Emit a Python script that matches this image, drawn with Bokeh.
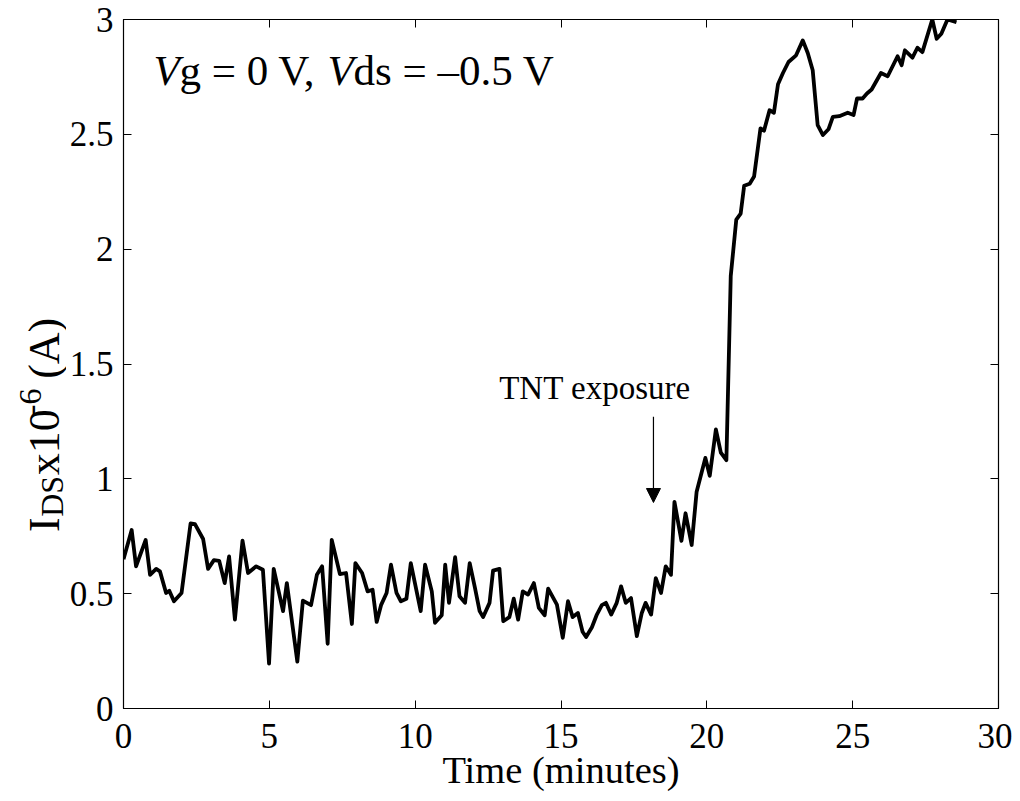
import numpy as np
from bokeh.plotting import figure
from bokeh.layouts import row
from bokeh.models import Range1d, FixedTicker, LinearAxis, Label, Arrow, NormalHead
from bokeh.embed import file_html
from bokeh.resources import INLINE

# ---------------- data ----------------
time_min = [0.00, 0.28, 0.43, 0.76, 0.91, 1.12, 1.25, 1.46, 1.57, 1.73,
            1.99, 2.30, 2.45, 2.73, 2.90, 3.10, 3.28, 3.47, 3.62, 3.82,
            4.08, 4.27, 4.55, 4.78, 4.99, 5.15, 5.47, 5.60, 5.96, 6.15,
            6.43, 6.63, 6.81, 7.00, 7.14, 7.42, 7.63, 7.83, 7.95, 8.18,
            8.37, 8.54, 8.68, 8.83, 9.02, 9.17, 9.36, 9.51, 9.70, 9.85,
            10.19, 10.34, 10.57, 10.68, 10.91, 11.03, 11.16, 11.37, 11.52, 11.71,
            11.87, 12.05, 12.21, 12.33, 12.55, 12.67, 12.89, 13.02, 13.23, 13.38,
            13.53, 13.69, 13.87, 14.07, 14.24, 14.44, 14.56, 14.86, 15.06, 15.24,
            15.40, 15.58, 15.74, 15.86, 16.06, 16.23, 16.40, 16.54, 16.72, 16.91,
            17.06, 17.22, 17.40, 17.60, 17.77, 17.90, 18.09, 18.25, 18.43, 18.59,
            18.77, 18.89, 19.13, 19.27, 19.48, 19.65, 19.95, 20.10, 20.31, 20.48,
            20.67, 20.82, 21.01, 21.16, 21.28, 21.47, 21.62, 21.84, 21.96, 22.15,
            22.30, 22.44, 22.61, 22.80, 23.06, 23.29, 23.46, 23.63, 23.80, 23.98,
            24.17, 24.32, 24.54, 24.83, 25.03, 25.15, 25.34, 25.49, 25.65, 25.97,
            26.20, 26.54, 26.68, 26.79, 27.05, 27.22, 27.39, 27.73, 27.88, 28.04,
            28.25, 28.56]

ids_uA = [0.650, 0.777, 0.619, 0.734, 0.582, 0.608, 0.597, 0.503, 0.513, 0.467,
          0.503, 0.806, 0.803, 0.738, 0.608, 0.646, 0.643, 0.546, 0.662, 0.387,
          0.731, 0.590, 0.619, 0.604, 0.195, 0.608, 0.424, 0.546, 0.204, 0.470,
          0.450, 0.582, 0.619, 0.282, 0.734, 0.585, 0.590, 0.368, 0.633, 0.590,
          0.510, 0.517, 0.377, 0.450, 0.503, 0.626, 0.503, 0.467, 0.478, 0.633,
          0.424, 0.626, 0.510, 0.373, 0.406, 0.626, 0.460, 0.659, 0.489, 0.460,
          0.633, 0.525, 0.424, 0.398, 0.460, 0.600, 0.608, 0.380, 0.398, 0.478,
          0.387, 0.510, 0.496, 0.546, 0.438, 0.406, 0.522, 0.452, 0.308, 0.467,
          0.398, 0.416, 0.334, 0.311, 0.354, 0.409, 0.450, 0.460, 0.409, 0.460,
          0.532, 0.460, 0.481, 0.315, 0.416, 0.460, 0.409, 0.568, 0.503, 0.619,
          0.582, 0.900, 0.730, 0.850, 0.712, 0.944, 1.091, 1.013, 1.215, 1.114,
          1.081, 1.883, 2.129, 2.155, 2.276, 2.285, 2.316, 2.526, 2.516, 2.605,
          2.594, 2.718, 2.767, 2.815, 2.844, 2.909, 2.854, 2.779, 2.540, 2.497,
          2.522, 2.576, 2.579, 2.594, 2.584, 2.656, 2.656, 2.678, 2.695, 2.767,
          2.753, 2.840, 2.801, 2.866, 2.834, 2.877, 2.858, 3.000, 2.916, 2.938,
          3.000, 2.988]

x_ticks = [0, 5, 10, 15, 20, 25, 30]
y_ticks = [0, 0.5, 1, 1.5, 2, 2.5, 3]
y_tick_labels = ["0", "0.5", "1", "1.5", "2", "2.5", "3"]

x_label = "Time (minutes)"
annotation_text = "TNT exposure"
exposure_time = 18.17
arrow_top, arrow_tip = 1.27, 0.897

# ---------------- layout ----------------
H = 793
LW = 66                     # strip holding the rotated y label
W = 1012 - LW               # main figure
ML, MR, MT = 120 - LW, 14, 19
frame_w = W - ML - MR       # 878
frame_h = 692
MB = H - MT - frame_h       # 82
XPX = frame_w / 30.0
YPX = frame_h / 3.0

serif = "Liberation Serif"

p = figure(width=W, height=H, x_range=Range1d(0, 30), y_range=Range1d(0, 3),
           output_backend="svg", toolbar_location=None,
           min_border_left=ML, min_border_right=MR, min_border_top=MT,
           min_border_bottom=MB)
p.background_fill_color = "white"
p.border_fill_color = "white"
p.outline_line_color = "black"
p.outline_line_width = 1.2
p.xgrid.grid_line_color = None
p.ygrid.grid_line_color = None

p.line(time_min, ids_uA, line_color="black", line_width=3.8, line_join="round")


def style_axis(ax, ticks, show_labels=True, standoff=10):
    ax.ticker = FixedTicker(ticks=ticks)
    ax.major_tick_in = 8
    ax.major_tick_out = 0
    ax.minor_tick_line_color = None
    ax.axis_line_color = "black"
    ax.major_tick_line_color = "black"
    ax.major_label_text_font = serif
    ax.major_label_text_color = "black"
    if show_labels:
        ax.major_label_text_font_size = "35px"
        ax.major_label_standoff = standoff
    else:
        ax.major_label_overrides = {t: "" for t in ticks}
        ax.major_label_text_font_size = "1px"
        ax.major_label_text_color = None
        ax.major_label_standoff = 0


style_axis(p.xaxis[0], x_ticks, True, 15)
style_axis(p.yaxis[0], y_ticks, True, 10)
p.yaxis[0].major_label_overrides = {t: s for t, s in zip(y_ticks, y_tick_labels)}

xa = p.xaxis[0]
xa.axis_label = x_label
xa.axis_label_text_font = serif
xa.axis_label_text_font_size = "38.5px"
xa.axis_label_text_font_style = "normal"
xa.axis_label_text_color = "black"
xa.axis_label_standoff = -2

top = LinearAxis()
style_axis(top, x_ticks, False)
p.add_layout(top, "above")
right = LinearAxis()
style_axis(right, y_ticks, False)
p.add_layout(right, "right")


def add_label(fig, text, x, y, size, style="normal", angle=0.0, align="left"):
    fig.add_layout(Label(x=x, y=y, text=text, text_font=serif,
                         text_font_size=f"{size}px", text_font_style=style,
                         angle=angle, text_align=align,
                         text_baseline="alphabetic", text_color="black"))


# condition annotation: Vg = 0 V, Vds = -0.5 V
ax0 = 30 / XPX
ay = 641 / YPX
fs = 43
off = 0.0
add_label(p, "V", ax0, ay, fs, style="italic")
off += 0.611 * fs
add_label(p, "g = 0 V,", ax0 + off / XPX, ay, fs)
off += 3.45 * fs
add_label(p, "V", ax0 + off / XPX, ay, fs, style="italic")
off += 0.611 * fs
add_label(p, "ds = \u20130.5 V", ax0 + off / XPX, ay, fs)

# TNT exposure annotation and arrow
add_label(p, annotation_text, 377 / XPX, 322 / YPX, 33)
p.add_layout(Arrow(end=NormalHead(size=14, fill_color="black", line_color="black"),
                   x_start=exposure_time, y_start=arrow_top,
                   x_end=exposure_time, y_end=arrow_tip,
                   line_color="black", line_width=1.2))

# ---------------- y label strip (pixel coordinates) ----------------
lf = figure(width=LW, height=H, x_range=Range1d(0, LW), y_range=Range1d(0, H),
            output_backend="svg", toolbar_location=None, min_border=0,
            x_axis_location=None, y_axis_location=None)
lf.outline_line_color = None
lf.xgrid.grid_line_color = None
lf.ygrid.grid_line_color = None
lf.background_fill_color = "white"
lf.border_fill_color = "white"

main, small = 44, 32
xb = 44.0
yb = H - 590.0
rot = np.pi / 2
off = 0.0
add_label(lf, "I", xb, yb + off, main, angle=rot)
off += 0.333 * main + 3
add_label(lf, "DS", xb + 7, yb + off, small, angle=rot)
off += (0.722 + 0.556) * small + 7
add_label(lf, "x10", xb, yb + off, main, angle=rot)
off += 1.5 * main + 3
add_label(lf, "-6", xb - 14, yb + off, small, angle=rot)
off += 0.833 * small + 0.3 * main + 2
add_label(lf, "(A)", xb, yb + off, main, angle=rot)

layout = row(lf, p, spacing=0)
open("out.html", "w").write(file_html(layout, INLINE))
